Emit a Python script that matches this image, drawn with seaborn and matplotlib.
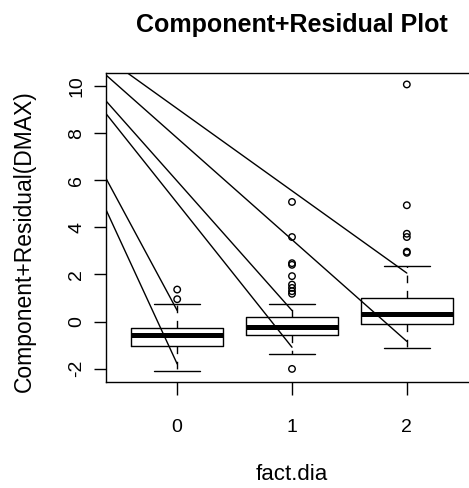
import numpy as np
import pandas as pd
import matplotlib
matplotlib.use("Agg")
import matplotlib.pyplot as plt
import seaborn as sns

# ---- data ----
levels = [0, 1, 2]
tick_labels = ["0", "1", "2"]
box_low = [-2.08, -1.38, -1.12]
box_q1 = [-1.05, -0.57, -0.09]
box_med = [-0.57, -0.21, 0.34]
box_q3 = [-0.28, 0.20, 1.02]
box_high = [0.75, 0.75, 2.35]
outliers_0 = [1.36, 0.95]
outliers_1 = [5.08, 3.59, 2.48, 2.41, 1.93, 1.57, 1.43, 1.29, 1.18, -2.01]
outliers_2 = [10.07, 4.94, 3.73, 3.59, 2.97, 2.92]
line_level = [0, 0, 1, 1, 2, 2]
line_start_x = -0.62
line_start_y = [4.75, 6.08, 8.83, 9.37, 10.47, 11.21]
line_end_y = [-1.80, 0.47, -1.09, 0.47, -0.84, 2.06]

# ---- build tables ----
rows = []
for i, lv in enumerate(levels):
    vals = [box_low[i]] + [box_q1[i]] * 20 + [box_med[i]] * 20 + [box_q3[i]] * 20 + [box_high[i]]
    rows += [(lv, v) for v in vals]
box_df = pd.DataFrame(rows, columns=["fact", "value"])

out_rows = []
for lv, outs in zip(levels, [outliers_0, outliers_1, outliers_2]):
    out_rows += [(lv, v) for v in outs]
out_df = pd.DataFrame(out_rows, columns=["fact", "value"])

seg_rows = []
for k in range(len(line_level)):
    seg_rows.append((k, line_start_x, line_start_y[k]))
    seg_rows.append((k, line_level[k], line_end_y[k]))
seg_df = pd.DataFrame(seg_rows, columns=["seg", "x", "y"])

# ---- plot ----
sns.set_theme(style="white")
plt.rcParams["font.family"] = ["Liberation Sans", "DejaVu Sans"]
plt.rcParams["lines.scale_dashes"] = False

fig = plt.figure(figsize=(4.69, 4.88), dpi=100)
ax = fig.add_axes([106 / 469, 1 - 382 / 488, (478 - 106) / 469, (382 - 73) / 488])

sns.boxplot(data=box_df, x="fact", y="value", native_scale=True, whis=(0, 100),
            showfliers=False, width=0.8, fill=False, color="black", linewidth=1.0,
            medianprops=dict(linewidth=3.6, color="black"),
            whiskerprops=dict(linestyle=(0, (5.5, 5.5)), color="black"),
            capprops=dict(color="black"), ax=ax)

sns.scatterplot(data=out_df, x="fact", y="value", marker="o", s=22,
                facecolor="none", edgecolor="black", linewidth=1.0, ax=ax, zorder=4)

sns.lineplot(data=seg_df, x="x", y="y", units="seg", estimator=None,
             color="black", linewidth=1.0, ax=ax, zorder=5, sort=False)

ax.set_xlim(-0.62, 2.62)
ax.set_ylim(-2.566, 10.556)
ax.set_xticks(levels)
ax.set_xticklabels(tick_labels)
ax.set_yticks([-2, 0, 2, 4, 6, 8, 10])
ax.set_yticklabels(["-2", "0", "2", "4", "6", "8", "10"], rotation=90, va="center")

for s in ax.spines.values():
    s.set_visible(True)
    s.set_color("black")
    s.set_linewidth(1.0)
ax.tick_params(axis="both", direction="out", length=9, width=1.0, color="black",
               labelsize=14, labelcolor="black")
ax.tick_params(axis="x", pad=18, bottom=True)
ax.tick_params(axis="y", pad=6, left=True)

ax.set_xlabel("fact.dia", fontsize=16, color="black")
ax.set_ylabel("Component+Residual(DMAX)", fontsize=16.5, color="black")
ax.xaxis.set_label_coords(0.5, (382 - 475) / 309)
ax.xaxis.label.set_verticalalignment("center")
ax.yaxis.set_label_coords((24 - 106) / 372, (382 - 241) / 309)
ax.yaxis.label.set_verticalalignment("center")
fig.text(292 / 469, 1 - 25 / 488, "Component+Residual Plot", ha="center", va="center",
         fontsize=18, fontweight="bold", color="black")

fig.savefig("out.png", dpi=100, facecolor="white")
